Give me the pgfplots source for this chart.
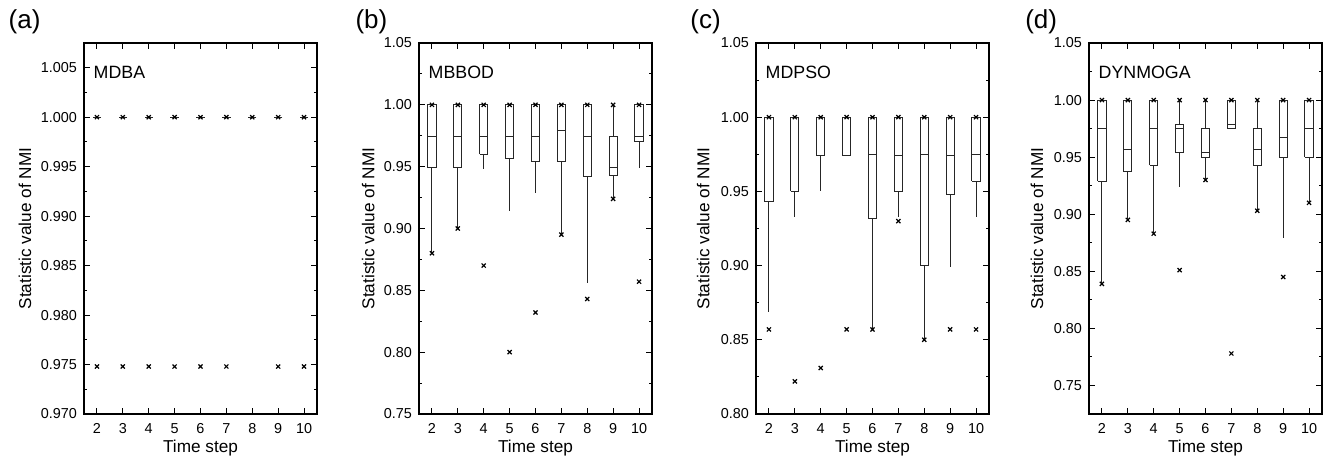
\documentclass[border=0pt]{standalone}
\usepackage{fontspec}
\setmainfont{Liberation Sans}
\usepackage{pgfplots}
\pgfplotsset{compat=1.18}

\pgfplotsset{
  nmipanel/.style={
    width=116.5pt, height=185.5pt, scale only axis,
    anchor=south west,
    xmin=1.5, xmax=10.5, xtick={2,...,10},
    tick align=inside, minor y tick num=1,
    major tick length=2.8pt, minor tick length=1.6pt,
    axis line style={line width=0.6pt},
    every tick/.style={black, line width=0.5pt},
    tick label style={font=\fontsize{7.2}{8}\selectfont},
    xticklabel style={yshift=-1.2pt},
    label style={font=\fontsize{8.6}{10}\selectfont},
    /pgf/number format/assume math mode=true,
    xlabel={Time step},
    ylabel={Statistic value of NMI},
    xlabel style={at={(axis description cs:0.5,-0.092)}, anchor=center},
    clip=false,
  },
  boxline/.style={black!85, line width=0.5pt, no marks},
  maxmin/.style={only marks, black, mark=x, mark size=1.45pt, mark options={line width=0.6pt}},
}
% position, median, upper quartile, lower quartile, upper whisker, lower whisker, x marks
\newcommand{\bx}[7]{%
  \pgfmathsetmacro\xl{#1-0.16}\pgfmathsetmacro\xr{#1+0.16}%
  \addplot[boxline] coordinates {(\xl,#4) (\xr,#4) (\xr,#3) (\xl,#3) (\xl,#4)};
  \addplot[boxline] coordinates {(\xl,#2) (\xr,#2)};
  \addplot[boxline] coordinates {(#1,#3) (#1,#5)};
  \addplot[boxline] coordinates {(#1,#4) (#1,#6)};
  \addplot[maxmin] coordinates {#7};
}
\newcommand{\tags}[3]{%
  \node[anchor=west, inner sep=0pt, font=\fontsize{8.9}{10}\selectfont] at (axis description cs:0.04,0.922) {#1};
  \node[anchor=west, inner sep=0pt, font=\fontsize{13}{15}\selectfont] at (axis description cs:#3,1.058) {#2};
}

\begin{document}
\begin{tikzpicture}
\path[use as bounding box] (0,0) rectangle (665pt,230.5pt);

% (a) MDBA: every box collapses onto 1.000
\begin{axis}[nmipanel, at={(42pt,23.5pt)},
  ymin=0.970, ymax=1.0075, ytick={0.970,0.975,0.980,0.985,0.990,0.995,1.000,1.005},
  yticklabel style={/pgf/number format/.cd, fixed, fixed zerofill, precision=3},
  ylabel style={at={(axis description cs:-0.253,0.5)}, anchor=center}]
\addplot[only marks, mark=-, mark size=2.1pt, mark options={line width=0.5pt, black!85}] coordinates {
  (2,1.0) (3,1.0) (4,1.0) (5,1.0) (6,1.0) (7,1.0) (8,1.0) (9,1.0) (10,1.0)};
\addplot[maxmin] coordinates {
  (2,1.0) (3,1.0) (4,1.0) (5,1.0) (6,1.0) (7,1.0) (8,1.0) (9,1.0) (10,1.0)
  (2,0.9748) (3,0.9748) (4,0.9748) (5,0.9748) (6,0.9748) (7,0.9748) (9,0.9748) (10,0.9748)};
\tags{MDBA}{(a)}{-0.325}
\end{axis}

% (b) MBBOD
\begin{axis}[nmipanel, at={(209.5pt,23.5pt)},
  ymin=0.75, ymax=1.05, ytick={0.75,0.80,...,1.06},
  yticklabel style={/pgf/number format/.cd, fixed, fixed zerofill, precision=2},
  ylabel style={at={(axis description cs:-0.218,0.5)}, anchor=center}]
\bx{2}{0.974}{1.0}{0.949}{1.0}{0.880}{(2,1.0) (2,0.880)}
\bx{3}{0.974}{1.0}{0.949}{1.0}{0.900}{(3,1.0) (3,0.900)}
\bx{4}{0.974}{1.0}{0.960}{1.0}{0.948}{(4,1.0) (4,0.870)}
\bx{5}{0.974}{1.0}{0.957}{1.0}{0.914}{(5,1.0) (5,0.800)}
\bx{6}{0.974}{1.0}{0.954}{1.0}{0.929}{(6,1.0) (6,0.832)}
\bx{7}{0.979}{1.0}{0.954}{1.0}{0.895}{(7,1.0) (7,0.895)}
\bx{8}{0.974}{1.0}{0.942}{1.0}{0.856}{(8,1.0) (8,0.843)}
\bx{9}{0.949}{0.974}{0.943}{1.0}{0.924}{(9,1.0) (9,0.924)}
\bx{10}{0.974}{1.0}{0.970}{1.0}{0.949}{(10,1.0) (10,0.857)}
\tags{MBBOD}{(b)}{-0.274}
\end{axis}

% (c) MDPSO
\begin{axis}[nmipanel, at={(378pt,23.5pt)},
  ymin=0.80, ymax=1.05, ytick={0.80,0.85,...,1.06},
  yticklabel style={/pgf/number format/.cd, fixed, fixed zerofill, precision=2},
  ylabel style={at={(axis description cs:-0.227,0.5)}, anchor=center}]
\bx{2}{1.0}{1.0}{0.943}{1.0}{0.869}{(2,1.0) (2,0.857)}
\bx{3}{1.0}{1.0}{0.950}{1.0}{0.933}{(3,1.0) (3,0.822)}
\bx{4}{1.0}{1.0}{0.974}{1.0}{0.950}{(4,1.0) (4,0.831)}
\bx{5}{1.0}{1.0}{0.974}{1.0}{0.974}{(5,1.0) (5,0.857)}
\bx{6}{0.975}{1.0}{0.932}{1.0}{0.857}{(6,1.0) (6,0.857)}
\bx{7}{0.974}{1.0}{0.950}{1.0}{0.933}{(7,1.0) (7,0.930)}
\bx{8}{0.975}{1.0}{0.900}{1.0}{0.850}{(8,1.0) (8,0.850)}
\bx{9}{0.974}{1.0}{0.948}{1.0}{0.899}{(9,1.0) (9,0.857)}
\bx{10}{0.975}{1.0}{0.957}{1.0}{0.933}{(10,1.0) (10,0.857)}
\tags{MDPSO}{(c)}{-0.283}
\end{axis}

% (d) DYNMOGA
\begin{axis}[nmipanel, at={(544.5pt,23.5pt)},
  ymin=0.725, ymax=1.05, ytick={0.75,0.80,...,1.06},
  yticklabel style={/pgf/number format/.cd, fixed, fixed zerofill, precision=2},
  ylabel style={at={(axis description cs:-0.223,0.5)}, anchor=center}]
\bx{2}{0.975}{1.0}{0.929}{1.0}{0.839}{(2,1.0) (2,0.839)}
\bx{3}{0.957}{1.0}{0.937}{1.0}{0.895}{(3,1.0) (3,0.895)}
\bx{4}{0.975}{1.0}{0.943}{1.0}{0.883}{(4,1.0) (4,0.883)}
\bx{5}{0.975}{0.979}{0.954}{1.0}{0.924}{(5,1.0) (5,0.851)}
\bx{6}{0.954}{0.975}{0.950}{1.0}{0.930}{(6,1.0) (6,0.930)}
\bx{7}{0.979}{1.0}{0.975}{1.0}{0.975}{(7,1.0) (7,0.778)}
\bx{8}{0.957}{0.975}{0.943}{1.0}{0.903}{(8,1.0) (8,0.903)}
\bx{9}{0.967}{1.0}{0.950}{1.0}{0.879}{(9,1.0) (9,0.845)}
\bx{10}{0.975}{1.0}{0.950}{1.0}{0.910}{(10,1.0) (10,0.910)}
\tags{DYNMOGA}{(d)}{-0.275}
\end{axis}
\end{tikzpicture}
\end{document}
